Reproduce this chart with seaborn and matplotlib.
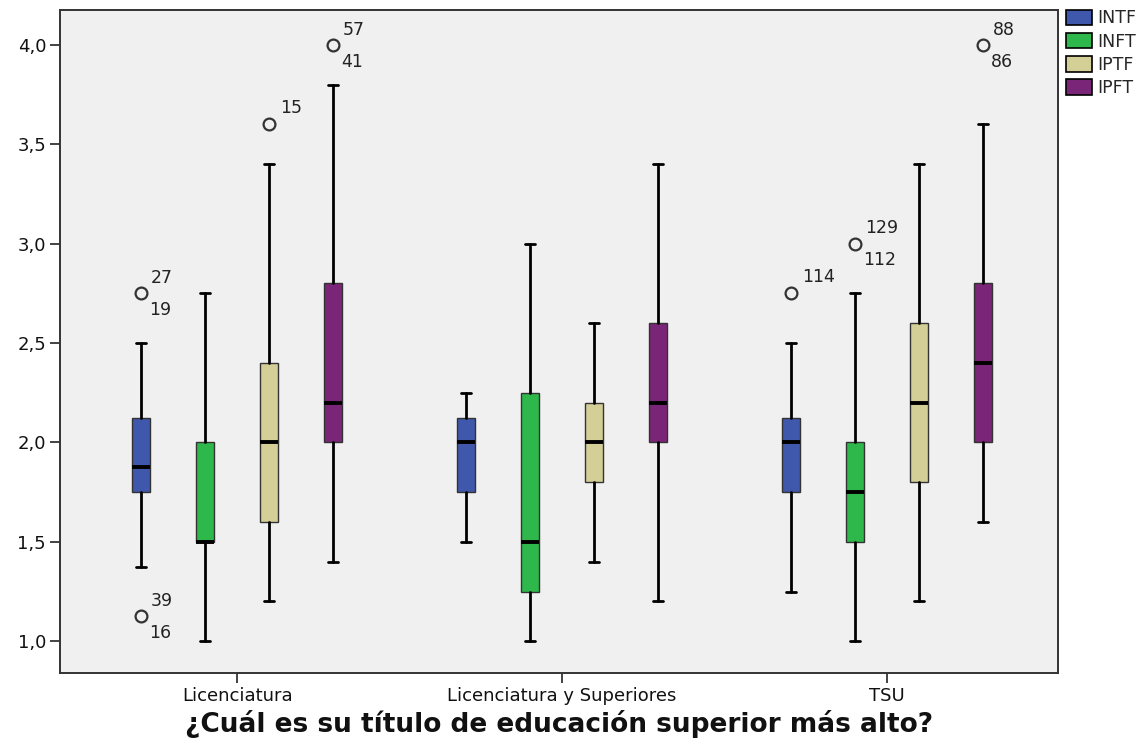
import matplotlib
matplotlib.use("Agg")
import matplotlib.pyplot as plt
import seaborn as sns
import numpy as np
from matplotlib.patches import Patch

# ---- data ----
categories = ["Licenciatura", "Licenciatura y Superiores", "TSU"]
series = ["INTF", "INFT", "IPTF", "IPFT"]
colors = ["#3F58AC", "#2EB84B", "#D3CF96", "#7B2579"]

# per series: values for the three categories
whislo = {"INTF": [1.375, 1.5, 1.25], "INFT": [1.0, 1.0, 1.0],
          "IPTF": [1.2, 1.4, 1.2], "IPFT": [1.4, 1.2, 1.6]}
q1 = {"INTF": [1.75, 1.75, 1.75], "INFT": [1.5, 1.25, 1.5],
      "IPTF": [1.6, 1.8, 1.8], "IPFT": [2.0, 2.0, 2.0]}
med = {"INTF": [1.875, 2.0, 2.0], "INFT": [1.5, 1.5, 1.75],
       "IPTF": [2.0, 2.0, 2.2], "IPFT": [2.2, 2.2, 2.4]}
q3 = {"INTF": [2.125, 2.125, 2.125], "INFT": [2.0, 2.25, 2.0],
      "IPTF": [2.4, 2.2, 2.6], "IPFT": [2.8, 2.6, 2.8]}
whishi = {"INTF": [2.5, 2.25, 2.5], "INFT": [2.75, 3.0, 2.75],
          "IPTF": [3.4, 2.6, 3.4], "IPFT": [3.8, 3.4, 3.6]}
# outliers: (value, labels)
outliers = {"INTF": [[(2.75, ["27", "19"]), (1.125, ["39", "16"])], [], [(2.75, ["114"])]],
            "INFT": [[], [], [(3.0, ["129", "112"])]],
            "IPTF": [[(3.6, ["15"])], [], []],
            "IPFT": [[(4.0, ["57", "41"])], [], [(4.0, ["88", "86"])]]}
yticks = [1.0, 1.5, 2.0, 2.5, 3.0, 3.5, 4.0]
ytick_labels = ["1,0", "1,5", "2,0", "2,5", "3,0", "3,5", "4,0"]
xlabel = "¿Cuál es su título de educación superior más alto?"

# ---- styling ----
sns.set_theme(style="white")
plt.rcParams["font.family"] = ["DejaVu Sans"]

fig = plt.figure(figsize=(11.4, 7.45), dpi=100)
ax = fig.add_axes([0.0526, 0.0966, 0.8754, 0.89])
ax.set_facecolor("#F0F0F0")

offset = 0.197
bw = 0.053
for j, s in enumerate(series):
    stats = []
    pos = []
    for i in range(len(categories)):
        stats.append(dict(whislo=whislo[s][i], q1=q1[s][i], med=med[s][i],
                          q3=q3[s][i], whishi=whishi[s][i], fliers=[]))
        pos.append(i + (j - 1.5) * offset)
    ax.bxp(stats, positions=pos, widths=bw, patch_artist=True, showfliers=False,
           boxprops=dict(facecolor=colors[j], edgecolor="#333333", linewidth=1.0),
           medianprops=dict(color="black", linewidth=2.8, solid_capstyle="butt"),
           whiskerprops=dict(color="black", linewidth=2.0),
           capprops=dict(color="black", linewidth=2.0),
           capwidths=bw * 0.55, manage_ticks=False, zorder=3)
    for i in range(len(categories)):
        x = pos[i]
        for val, labs in outliers[s][i]:
            ax.plot([x], [val], marker="o", ms=8.5, mfc="none", mec="#333333",
                    mew=1.6, ls="none", zorder=4)
            if len(labs) == 2:
                ax.annotate(labs[0], (x, val), xytext=(7, 11), textcoords="offset points",
                            fontsize=12.5, color="#222222", va="center", ha="left")
                ax.annotate(labs[1], (x, val), xytext=(6, -12), textcoords="offset points",
                            fontsize=12.5, color="#222222", va="center", ha="left")
            else:
                ax.annotate(labs[0], (x, val), xytext=(8, 12), textcoords="offset points",
                            fontsize=12.5, color="#222222", va="center", ha="left")

ax.set_xlim(-0.545, 2.526)
ax.set_ylim(0.84, 4.176)
ax.set_xticks(range(len(categories)))
ax.set_xticklabels(categories, fontsize=13, color="#111111")
ax.set_yticks(yticks)
ax.set_yticklabels(ytick_labels, fontsize=13, color="#111111")
ax.tick_params(axis="both", direction="out", length=7, width=1.2, color="#222222",
               bottom=True, left=True, pad=3)
for sp in ax.spines.values():
    sp.set_color("#333333")
    sp.set_linewidth(1.4)
ax.set_xlabel(xlabel, fontsize=19, fontweight="bold", labelpad=4, color="#111111")

handles = [Patch(facecolor=c, edgecolor="black", linewidth=1.2) for c in colors]
leg = fig.legend(handles, series, loc="upper left", bbox_to_anchor=(0.932, 0.992),
                 frameon=False, fontsize=12.5, handlelength=1.5, handleheight=1.0,
                 handletextpad=0.3, labelspacing=0.3, borderpad=0.2, borderaxespad=0)

fig.savefig("out.png", dpi=100, facecolor="white")
